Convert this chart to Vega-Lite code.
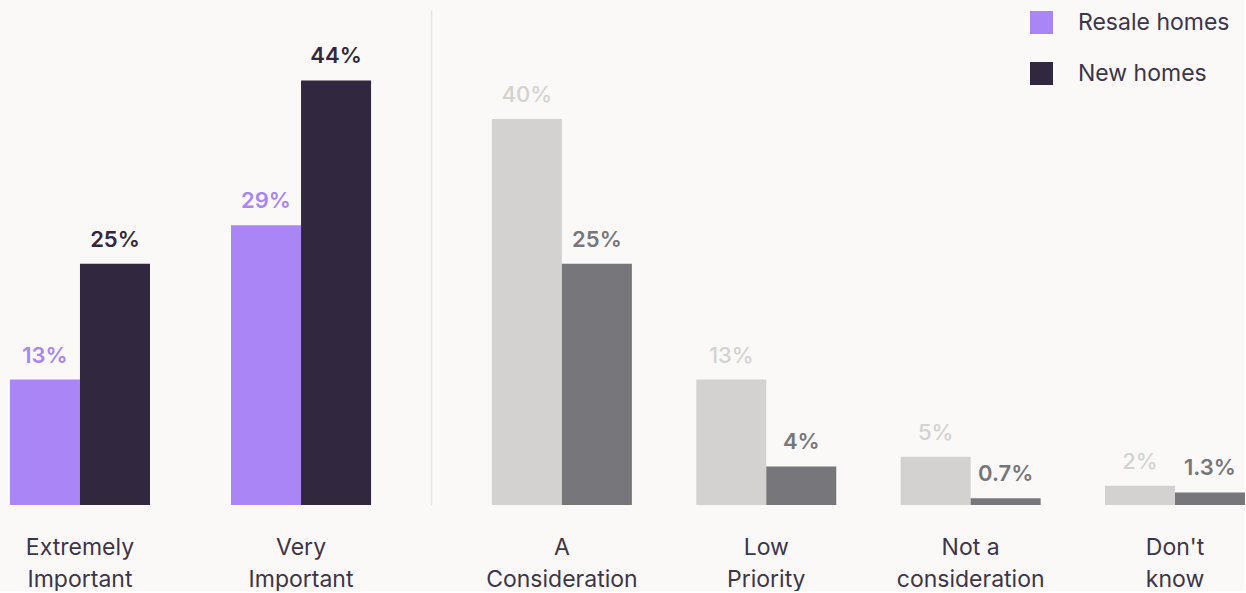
{
  "$schema": "https://vega.github.io/schema/vega-lite/v6.json",
  "background": "#faf9f7",
  "padding": {"top": 10, "left": 0, "right": 0, "bottom": 0},
  "config": {
    "view": {"stroke": null},
    "font": "Inter",
    "axis": {"labelFont": "Inter"},
    "legend": {"labelFont": "Inter"}
  },
  "data": {
    "values": [
      {"category": "Extremely\nImportant", "panel": "importance", "series": "Resale homes", "pct": 0.13},
      {"category": "Extremely\nImportant", "panel": "importance", "series": "New homes", "pct": 0.25},
      {"category": "Very\nImportant", "panel": "importance", "series": "Resale homes", "pct": 0.29},
      {"category": "Very\nImportant", "panel": "importance", "series": "New homes", "pct": 0.44},
      {"category": "A\nConsideration", "panel": "other", "series": "Resale homes", "pct": 0.40},
      {"category": "A\nConsideration", "panel": "other", "series": "New homes", "pct": 0.25},
      {"category": "Low\nPriority", "panel": "other", "series": "Resale homes", "pct": 0.13},
      {"category": "Low\nPriority", "panel": "other", "series": "New homes", "pct": 0.04},
      {"category": "Not a\nconsideration", "panel": "other", "series": "Resale homes", "pct": 0.05},
      {"category": "Not a\nconsideration", "panel": "other", "series": "New homes", "pct": 0.007},
      {"category": "Don't\nknow", "panel": "other", "series": "Resale homes", "pct": 0.02},
      {"category": "Don't\nknow", "panel": "other", "series": "New homes", "pct": 0.013}
    ]
  },
  "spacing": 50,
  "resolve": {
    "scale": {"x": "independent", "y": "independent", "xOffset": "independent"},
    "axis": {"x": "independent", "y": "independent"}
  },
  "hconcat": [
    {
      "width": 381,
      "height": 495,
      "transform": [{"filter": "datum.panel === 'importance'"}],
      "encoding": {
        "x": {
          "field": "category",
          "type": "nominal",
          "sort": null,
          "scale": {"paddingInner": 0.3665, "paddingOuter": 0.045},
          "axis": {
            "title": null,
            "domain": false,
            "ticks": false,
            "labelAngle": 0,
            "labelFontSize": 23,
            "labelColor": "#3d3549",
            "labelLineHeight": 32,
            "labelPadding": 31,
            "labelExpr": "split(datum.label, '\\n')"
          }
        },
        "xOffset": {"field": "series", "type": "nominal", "sort": ["Resale homes", "New homes"], "scale": {"paddingInner": 0, "paddingOuter": 0}},
        "y": {"field": "pct", "type": "quantitative", "scale": {"domain": [0, 0.513], "nice": false, "zero": true}, "axis": null},
        "color": {
          "field": "series",
          "type": "nominal",
          "sort": ["Resale homes", "New homes"],
          "scale": {"domain": ["Resale homes", "New homes"], "range": ["#a985f6", "#31273f"]},
          "legend": {
            "title": null,
            "orient": "none",
            "legendX": 1030,
            "legendY": 1,
            "padding": 0,
            "symbolType": "square",
            "symbolSize": 529,
            "symbolStrokeWidth": 0,
            "symbolOpacity": 1,
            "labelFontSize": 23,
            "labelColor": "#3d3549",
            "labelOffset": 25,
            "rowPadding": 27
          }
        }
      },
      "layer": [
        {"mark": {"type": "bar", "width": {"band": 1}}},
        {
          "mark": {"type": "text", "baseline": "bottom", "dy": -12, "fontSize": 22, "fontWeight": 600},
          "encoding": {"text": {"field": "pct", "type": "quantitative", "format": ".1~%"}}
        }
      ]
    },
    {
      "width": 814,
      "height": 495,
      "transform": [{"filter": "datum.panel === 'other'"}],
      "encoding": {
        "x": {
          "field": "category",
          "type": "nominal",
          "sort": null,
          "scale": {"paddingInner": 0.315, "paddingOuter": 0.149, "align": 1},
          "axis": {
            "title": null,
            "domain": false,
            "ticks": false,
            "labelAngle": 0,
            "labelFontSize": 23,
            "labelColor": "#3d3549",
            "labelLineHeight": 32,
            "labelPadding": 31,
            "labelExpr": "split(datum.label, '\\n')"
          }
        },
        "xOffset": {"field": "series", "type": "nominal", "sort": ["Resale homes", "New homes"], "scale": {"paddingInner": 0, "paddingOuter": 0}},
        "y": {
          "field": "pct",
          "type": "quantitative",
          "scale": {"domain": [0, 0.513], "nice": false, "zero": true},
          "axis": {"title": null, "labels": false, "ticks": false, "grid": false, "domainColor": "#e6e5e3", "domainWidth": 1.5}
        },
        "fill": {
          "field": "series",
          "type": "nominal",
          "sort": ["Resale homes", "New homes"],
          "scale": {"domain": ["Resale homes", "New homes"], "range": ["#d3d2d0", "#77767a"]},
          "legend": null
        }
      },
      "layer": [
        {"mark": {"type": "bar", "width": {"band": 1}}},
        {
          "transform": [{"filter": "datum.series === 'Resale homes'"}],
          "mark": {"type": "text", "baseline": "bottom", "dy": -12, "fontSize": 22, "fontWeight": 500},
          "encoding": {"text": {"field": "pct", "type": "quantitative", "format": ".1~%"}}
        },
        {
          "transform": [{"filter": "datum.series === 'New homes'"}],
          "mark": {"type": "text", "baseline": "bottom", "dy": -12, "fontSize": 22, "fontWeight": 600},
          "encoding": {"text": {"field": "pct", "type": "quantitative", "format": ".1~%"}}
        }
      ]
    }
  ]
}
